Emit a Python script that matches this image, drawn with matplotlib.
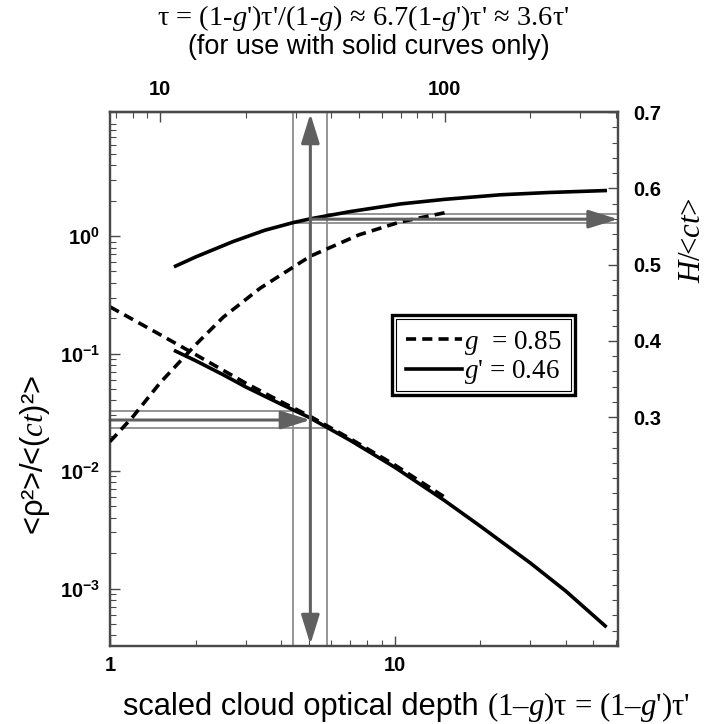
import numpy as np
import matplotlib
matplotlib.use("Agg")
import matplotlib.pyplot as plt
from matplotlib.ticker import FixedLocator, LogLocator, MultipleLocator, FuncFormatter, NullFormatter
from matplotlib.patches import Rectangle
from matplotlib.offsetbox import TextArea, HPacker, AnnotationBbox

plt.rcParams['font.family'] = ['Liberation Sans', 'DejaVu Sans']
plt.rcParams['font.weight'] = 'bold'   # tick labels are bold, other text set back to normal
plt.rcParams['mathtext.fontset'] = 'custom'
plt.rcParams['mathtext.rm'] = 'Liberation Serif:weight=normal'
plt.rcParams['mathtext.it'] = 'Liberation Serif:style=italic:weight=normal'
plt.rcParams['mathtext.bf'] = 'Liberation Sans:weight=bold'

# <rho^2>/<(ct)^2>  (left axis)
x_rho_dash = [1.0, 1.5, 2.0, 2.5, 3.0, 4.0, 5.0, 7.0, 10, 15]
rho_dash = [0.25, 0.145, 0.098, 0.072, 0.056, 0.0388, 0.0296, 0.0188, 0.0113, 0.0060]
x_rho_solid = [1.7, 2.0, 2.5, 3.0, 4.0, 5.0, 7.0, 10, 15, 20, 30, 40, 55]
rho_solid = [0.105, 0.087, 0.066, 0.052, 0.037, 0.0287, 0.0182, 0.0108, 0.0056, 0.0034, 0.00165, 0.00095, 0.00048]

# H/<ct>  (right axis)
x_H_dash = [1.0, 1.2, 1.5, 2.0, 2.5, 3.37, 5.06, 7.5, 10.5, 15.5]
H_dash = [0.268, 0.30, 0.345, 0.395, 0.431, 0.469, 0.511, 0.539, 0.556, 0.569]
x_H_solid = [1.7, 2.0, 2.7, 3.5, 4.4, 5.06, 7.0, 10.5, 15, 23.6, 35, 55]
H_solid = [0.498, 0.510, 0.530, 0.545, 0.555, 0.560, 0.5695, 0.5795, 0.5855, 0.5915, 0.5945, 0.597]

# reading guides
tau_mark = 5.06
tau_band = [4.41, 5.81]
rho_mark = 0.0272
rho_band = [0.0324, 0.0232]
H_mark = 0.5595
H_band = [0.5545, 0.566]

legend_labels = ["$g$  = 0.85", "$g$' = 0.46"]

fig = plt.figure(figsize=(7.06, 7.24), dpi=100)
ax = fig.add_axes([110/706, 78/724, 508/706, 534/724])
ax.set_xscale('log')
ax.set_yscale('log')
ax.set_xlim(1, 61)
ax.set_ylim(3.24e-4, 11.4)
ax2 = ax.twinx()
ax2.set_ylim(0, 0.7)

spine_c = '#4a4a4a'
grey = '#8c8c8c'
dark = '#606060'

# guide lines
for xv in tau_band:
    ax.axvline(xv, color=grey, lw=1.3, zorder=1)
ax.plot([1, tau_band[0]], [rho_band[0]] * 2, color=grey, lw=1.3, zorder=1)
ax.plot([1, tau_band[1]], [rho_band[1]] * 2, color=grey, lw=1.3, zorder=1)
ax2.plot([tau_band[0], 61], [H_band[0]] * 2, color=grey, lw=1.3, zorder=1)
ax2.plot([tau_band[1], 61], [H_band[1]] * 2, color=grey, lw=1.3, zorder=1)

# curves
lw = 2.6
l_dash, = ax.plot(x_rho_dash, rho_dash, color='k', lw=lw, dashes=(2.8, 1.7), zorder=3)
l_solid, = ax.plot(x_rho_solid, rho_solid, color='k', lw=lw, zorder=3)
ax2.plot(x_H_dash, H_dash, color='k', lw=lw, dashes=(2.8, 1.7), zorder=3)
ax2.plot(x_H_solid, H_solid, color='k', lw=lw, zorder=3)

# arrows
ap = dict(color=dark, lw=2.2, shrinkA=0, shrinkB=0, mutation_scale=20)
ax2.annotate('', xy=(tau_mark, 0.997), xycoords=('data', 'axes fraction'),
             xytext=(tau_mark, 0.003), textcoords=('data', 'axes fraction'),
             arrowprops=dict(arrowstyle='<|-|>,head_length=0.9,head_width=0.28', **ap))
ax.annotate('', xy=(tau_mark, rho_mark), xytext=(1, rho_mark),
            arrowprops=dict(arrowstyle='-|>,head_length=0.9,head_width=0.28', **ap))
ax2.annotate('', xy=(61, H_mark), xytext=(tau_mark, H_mark),
             arrowprops=dict(arrowstyle='-|>,head_length=0.9,head_width=0.28', **ap))

# ticks
tick_fs = 14.5
ax.xaxis.set_major_locator(FixedLocator([1, 10]))
ax.xaxis.set_minor_locator(LogLocator(base=10, subs=np.arange(2, 10), numticks=20))
ax.xaxis.set_major_formatter(FuncFormatter(lambda v, p: '%d' % round(v)))
ax.xaxis.set_minor_formatter(NullFormatter())
ax.yaxis.set_major_locator(FixedLocator([1e-3, 1e-2, 1e-1, 1]))
ax.yaxis.set_minor_locator(LogLocator(base=10, subs=np.arange(2, 10), numticks=20))
ax.yaxis.set_major_formatter(FuncFormatter(lambda v, p: r'$\mathbf{10^{%d}}$' % round(np.log10(v))))
ax.yaxis.set_minor_formatter(NullFormatter())
ax.tick_params(axis='x', which='both', direction='in', top=False, colors=spine_c, labelcolor='k', labelsize=tick_fs, pad=7)
ax.tick_params(axis='y', which='both', direction='in', right=False, colors=spine_c, labelcolor='k', labelsize=tick_fs, pad=7)
ax.tick_params(which='major', length=7, width=1)
ax.tick_params(which='minor', length=4, width=0.8)

ax2.yaxis.set_major_locator(FixedLocator([0.3, 0.4, 0.5, 0.6, 0.7]))
ax2.yaxis.set_minor_locator(MultipleLocator(0.02))
ax2.yaxis.set_major_formatter(FuncFormatter(lambda v, p: '%.1f' % v))
ax2.tick_params(axis='y', which='both', direction='in', colors=spine_c, labelcolor='k', labelsize=tick_fs, pad=11)
ax2.tick_params(which='major', length=7, width=1)
ax2.tick_params(which='minor', length=4, width=0.8)

secax = ax.secondary_xaxis('top', functions=(lambda x: x / 0.15, lambda t: t * 0.15))
secax.xaxis.set_major_locator(FixedLocator([10, 100]))
secax.xaxis.set_minor_locator(LogLocator(base=10, subs=np.arange(2, 10), numticks=20))
secax.xaxis.set_major_formatter(FuncFormatter(lambda v, p: '%d' % round(v)))
secax.xaxis.set_minor_formatter(NullFormatter())
secax.tick_params(which='both', direction='in', colors=spine_c, labelcolor='k', labelsize=tick_fs, pad=9)
secax.tick_params(which='major', length=7, width=1)
secax.tick_params(which='minor', length=4, width=0.8)

for a in (ax, ax2, secax):
    for s in a.spines.values():
        s.set_color(spine_c)
        s.set_linewidth(1.6)

# legend with double frame
ax2.legend([l_dash, l_solid], legend_labels, loc='upper left', bbox_to_anchor=(0.564, 0.612),
           frameon=False, prop={'family': 'Liberation Serif', 'size': 19.5, 'weight': 'normal'},
           handlelength=2.05, handletextpad=0.1, labelspacing=0.05, borderpad=0.35, borderaxespad=0)
ax2.add_patch(Rectangle((0.555, 0.47), 0.36, 0.15, transform=ax2.transAxes, fill=False,
                        ec='k', lw=2.4, zorder=5))
ax2.add_patch(Rectangle((0.563, 0.4775), 0.344, 0.135, transform=ax2.transAxes, fill=False,
                        ec='k', lw=0.8, zorder=5))

# titles and labels
fig.text(363/706, 1 - 18/724, "τ = (1-$g$')τ'/(1-$g$) ≈ 6.7(1-$g$')τ' ≈ 3.6τ'", ha='center', va='center',
         fontsize=20.5, family='Liberation Serif', fontweight='normal')
fig.text(369/706, 1 - 47/724, "(for use with solid curves only)", ha='center', va='center',
         fontsize=19.4, fontweight='normal')
lab_fs = 22.2
xl = HPacker(children=[TextArea("scaled cloud optical depth ",
                                textprops=dict(fontsize=lab_fs, fontweight='normal', family='Liberation Sans')),
                       TextArea("(1–$g$)τ = (1–$g$')τ'",
                                textprops=dict(fontsize=lab_fs, fontweight='normal', family='Liberation Serif'))],
             pad=0, sep=0, align='baseline')
fig.add_artist(AnnotationBbox(xl, (406.5/706, 1 - 707/724), xycoords='figure fraction',
                              frameon=False, box_alignment=(0.5, 0.5)))
fig.text(35/706, 1 - 455/724, "<ρ²>/<($ct$)²>", rotation=90, ha='center', va='center',
         fontsize=lab_fs, fontweight='normal')
fig.text(692/706, 1 - 240/724, "$H$/<$ct$>", rotation=90, ha='center', va='center',
         fontsize=lab_fs, fontweight='normal', family='Liberation Serif')

fig.savefig('out.png', dpi=100)
